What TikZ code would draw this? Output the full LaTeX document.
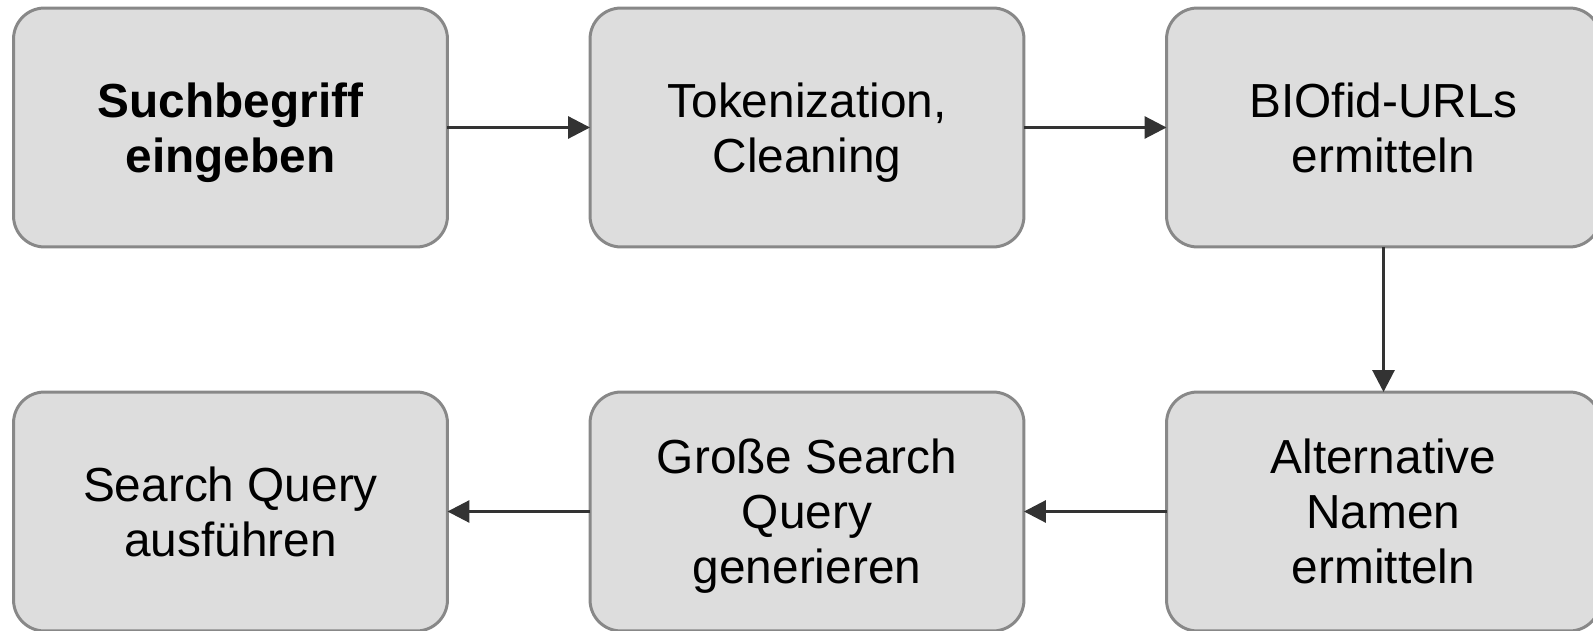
\documentclass[tikz,border=0pt]{standalone}
\usepackage{fontspec}
\setmainfont{Liberation Sans}
\usepackage{tikz}
\usetikzlibrary{arrows.meta}
\definecolor{boxfill}{HTML}{DDDDDD}
\definecolor{boxline}{HTML}{888888}
\definecolor{arrowline}{HTML}{333333}

\begin{document}
\begin{tikzpicture}[x=0.02cm,y=-0.02cm]
		\tikzset{> = {Triangle[length=12.5pt,width=12.5pt]}}
		\tikzset{stepbox/.style = {draw = boxline, fill = boxfill, line width = 1.7pt, rounded corners = 0.62cm,
				minimum width = 8.68cm, minimum height = 4.78cm, align = center, outer sep = 0pt,
				text depth = 0pt, font = \fontsize{27.2}{31.2}\selectfont}}
		\tikzset{flow/.style = {->, arrowline, line width = 1.7pt}}
		\useasboundingbox (0,0) rectangle (1593,631);
		\clip (0,0) rectangle (1593,631);
		\node[stepbox] (S) at (230.5,127.5){\textbf{Suchbegriff}\\\textbf{eingeben}};
		\node[stepbox] (T) at (807,127.5){Tokenization,\\Cleaning};
		\node[stepbox] (B) at (1383.5,127.5){BIOfid-URLs\\ermitteln};
		\node[stepbox] (A) at (1383.5,511.5){Alternative\\Namen\\ermitteln};
		\node[stepbox] (G) at (807,511.5){Große Search\\Query\\generieren};
		\node[stepbox] (Q) at (230.5,511.5){Search Query\\ausführen};
		\draw[flow] (S) -- (T);
		\draw[flow] (T) -- (B);
		\draw[flow] (B) -- (A);
		\draw[flow] (A) -- (G);
		\draw[flow] (G) -- (Q);
	\end{tikzpicture}
\end{document}
